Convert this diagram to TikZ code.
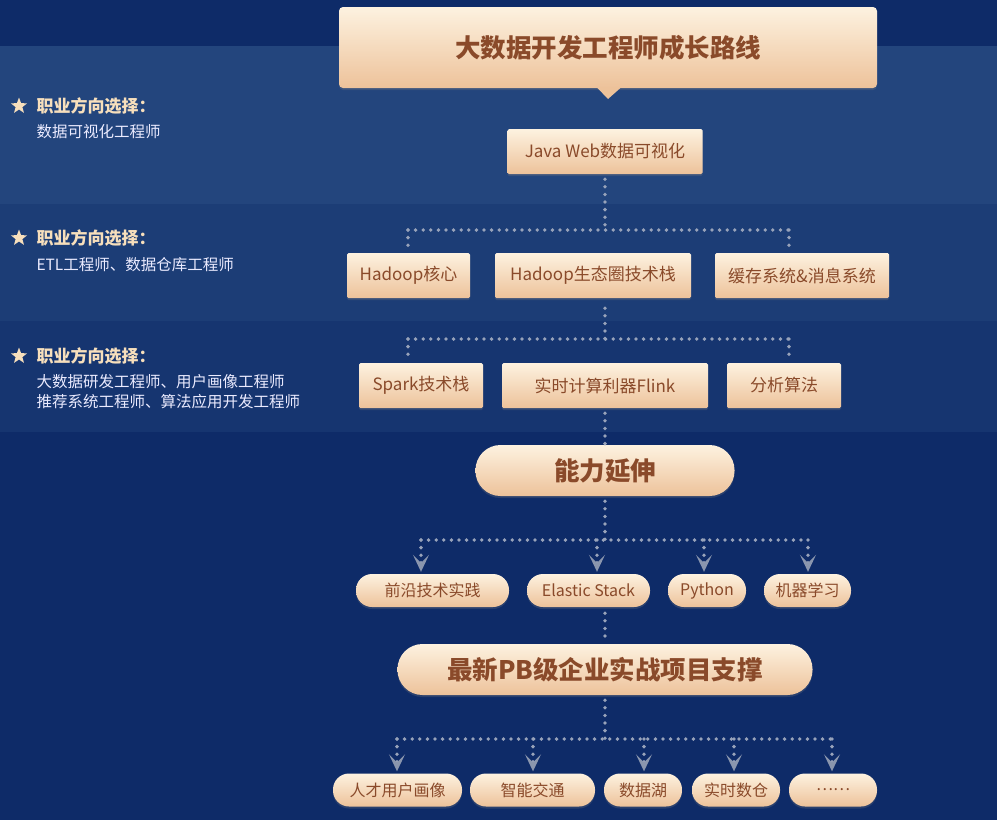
\documentclass[tikz,border=0pt]{standalone}
\usepackage{fontspec}
\setmainfont{Noto Sans CJK SC}
\usetikzlibrary{shapes.geometric, arrows.meta, shadows}
\definecolor{navy}{HTML}{0E2B68}
\definecolor{bandA}{HTML}{23457D}
\definecolor{bandB}{HTML}{1C3D76}
\definecolor{bandC}{HTML}{163570}
\definecolor{boxtop}{HTML}{FDF2E0}
\definecolor{boxbot}{HTML}{EDC29A}
\definecolor{ink}{HTML}{8A4A2A}
\definecolor{cream}{HTML}{F7DFBC}
\definecolor{dotgray}{HTML}{98A3BA}
\definecolor{tipgray}{HTML}{8A96AE}
\tikzstyle{stage} = [rectangle, rounded corners=1.5pt, top color=boxtop, bottom color=boxbot, text=ink, inner sep=0pt, minimum height=45pt, font=\fontsize{17}{20}\selectfont, drop shadow={opacity=0.25, shadow xshift=0pt, shadow yshift=-2pt}]
\tikzstyle{pill} = [rectangle, rounded corners=16pt, top color=boxtop, bottom color=boxbot, text=ink, inner sep=0pt, minimum height=33pt, font=\fontsize{16}{19}\selectfont, drop shadow={opacity=0.25, shadow xshift=0pt, shadow yshift=-2pt}]
\tikzstyle{bigpill} = [pill, rounded corners=25pt, minimum height=51pt, font=\fontsize{25.5}{28}\selectfont\bfseries]
\tikzstyle{dotline} = [draw=dotgray, line width=3.8pt, line cap=round, dash pattern=on 0pt off 7.6pt]
\tikzstyle{dotarrow} = [dotline, -{Stealth[length=17pt, width=16pt, inset=8pt, color=tipgray]}, shorten >=2pt]
\tikzstyle{careerhead} = [anchor=west, text=cream, font=\fontsize{17}{20}\selectfont\bfseries]
\tikzstyle{careersub} = [anchor=west, text=white!92!blue, align=left, font=\fontsize{15.5}{20}\selectfont]
\tikzstyle{starmark} = [star, star points=5, star point ratio=2.4, fill=cream, inner sep=0pt, minimum size=17pt]

\begin{document}
\begin{tikzpicture}[x=1pt, y=-1pt]

% Background bands
\fill[navy] (0,0) rectangle (997,820);
\fill[bandA] (0,46) rectangle (997,204);
\fill[bandB] (0,204) rectangle (997,321);
\fill[bandC] (0,321) rectangle (997,432);
\useasboundingbox (0,0) rectangle (997,820);

% Career directions
\node[starmark] (star1) at (19,106) {};
\node[careerhead] (head1) at (33,106) {职业方向选择：};
\node[careersub] (sub1) at (33,132) {数据可视化工程师};
\node[starmark] (star2) at (19,238) {};
\node[careerhead] (head2) at (33,238) {职业方向选择：};
\node[careersub] (sub2) at (33,265) {ETL工程师、数据仓库工程师};
\node[starmark] (star3) at (19,356) {};
\node[careerhead] (head3) at (33,356) {职业方向选择：};
\node[careersub] (sub3) at (33,392) {大数据研发工程师、用户画像工程师\\推荐系统工程师、算法应用开发工程师};

% Title
\node[stage, rounded corners=4pt, minimum width=538pt, minimum height=81pt, font=\fontsize{25.5}{28}\selectfont\bfseries] (title) at (608,47.5) {大数据开发工程师成长路线};
\fill[boxbot] (597,87.5) -- (621,87.5) -- (608,99) -- cycle;

% Stages
\node[stage, minimum width=195pt] (java) at (605,151.5) {Java Web数据可视化};
\node[stage, minimum width=123pt] (hcore) at (408.5,275.5) {Hadoop核心};
\node[stage, minimum width=196pt] (heco) at (593,275.5) {Hadoop生态圈技术栈};
\node[stage, minimum width=174pt] (cache) at (802,275.5) {缓存系统\&消息系统};
\node[stage, minimum width=124pt] (spark) at (421,385.5) {Spark技术栈};
\node[stage, minimum width=206pt] (flink) at (605,385.5) {实时计算利器Flink};
\node[stage, minimum width=114pt] (algo) at (784,385.5) {分析算法};
\node[bigpill, minimum width=259pt] (extend) at (605,470.5) {能力延伸};
\node[pill, minimum width=153pt] (front) at (432.5,590.5) {前沿技术实践};
\node[pill, minimum width=123pt] (elastic) at (588.5,590.5) {Elastic Stack};
\node[pill, minimum width=78pt] (python) at (707,590.5) {Python};
\node[pill, minimum width=87pt] (ml) at (807.5,590.5) {机器学习};
\node[bigpill, minimum width=415pt] (project) at (605,669.5) {最新PB级企业实战项目支撑};
\node[pill, minimum width=129pt] (persona) at (397.5,790) {人才用户画像};
\node[pill, minimum width=125pt] (traffic) at (532.5,790) {智能交通};
\node[pill, minimum width=78pt] (lake) at (643,790) {数据湖};
\node[pill, minimum width=88pt] (dwh) at (736,790) {实时数仓};
\node[pill, minimum width=88pt] (more) at (833,790) {……};

% Junctions
\coordinate (j1) at (605,230);
\coordinate (j1l) at (408,230);
\coordinate (j1r) at (789,230);
\coordinate (j2) at (605,339);
\coordinate (j2l) at (408,339);
\coordinate (j2r) at (789,339);
\coordinate (j3) at (605,540);
\coordinate (j3a) at (421,540);
\coordinate (j3b) at (597,540);
\coordinate (j3c) at (704,540);
\coordinate (j3d) at (808,540);
\coordinate (j4) at (605,739);
\coordinate (j4a) at (397,739);
\coordinate (j4b) at (533,739);
\coordinate (j4c) at (644,739);
\coordinate (j4d) at (734,739);
\coordinate (j4e) at (832,739);

% Connectors
\draw[dotline, shorten <=5pt] (java.south) -- (j1);
\draw[dotline] (j1l) -- (j1r);
\draw[dotline, shorten >=6pt] (j1l) -- (j1l |- hcore.north);
\draw[dotline, shorten >=6pt] (j1r) -- (j1r |- cache.north);
\draw[dotline, shorten <=10pt] (heco.south -| j2) -- (j2);
\draw[dotline] (j2l) -- (j2r);
\draw[dotline, shorten >=8pt] (j2l) -- (j2l |- spark.north);
\draw[dotline, shorten >=8pt] (j2r) -- (j2r |- algo.north);
\draw[dotline, shorten <=5pt] (flink.south) -- (extend.north);
\draw[dotline, shorten <=5pt] (extend.south) -- (j3);
\draw[dotline] (j3a) -- (j3d);
\draw[dotarrow] (j3a) -- (j3a |- front.north);
\draw[dotarrow] (j3b) -- (j3b |- elastic.north);
\draw[dotarrow] (j3c) -- (j3c |- python.north);
\draw[dotarrow] (j3d) -- (j3d |- ml.north);
\draw[dotline, shorten <=6pt, shorten >=4pt] (elastic.south -| project.north) -- (project.north);
\draw[dotline, shorten <=5pt] (project.south) -- (j4);
\draw[dotline] (j4a) -- (j4e);
\draw[dotarrow] (j4a) -- (j4a |- persona.north);
\draw[dotarrow] (j4b) -- (j4b |- traffic.north);
\draw[dotarrow] (j4c) -- (j4c |- lake.north);
\draw[dotarrow] (j4d) -- (j4d |- dwh.north);
\draw[dotarrow] (j4e) -- (j4e |- more.north);

\end{tikzpicture}
\end{document}
